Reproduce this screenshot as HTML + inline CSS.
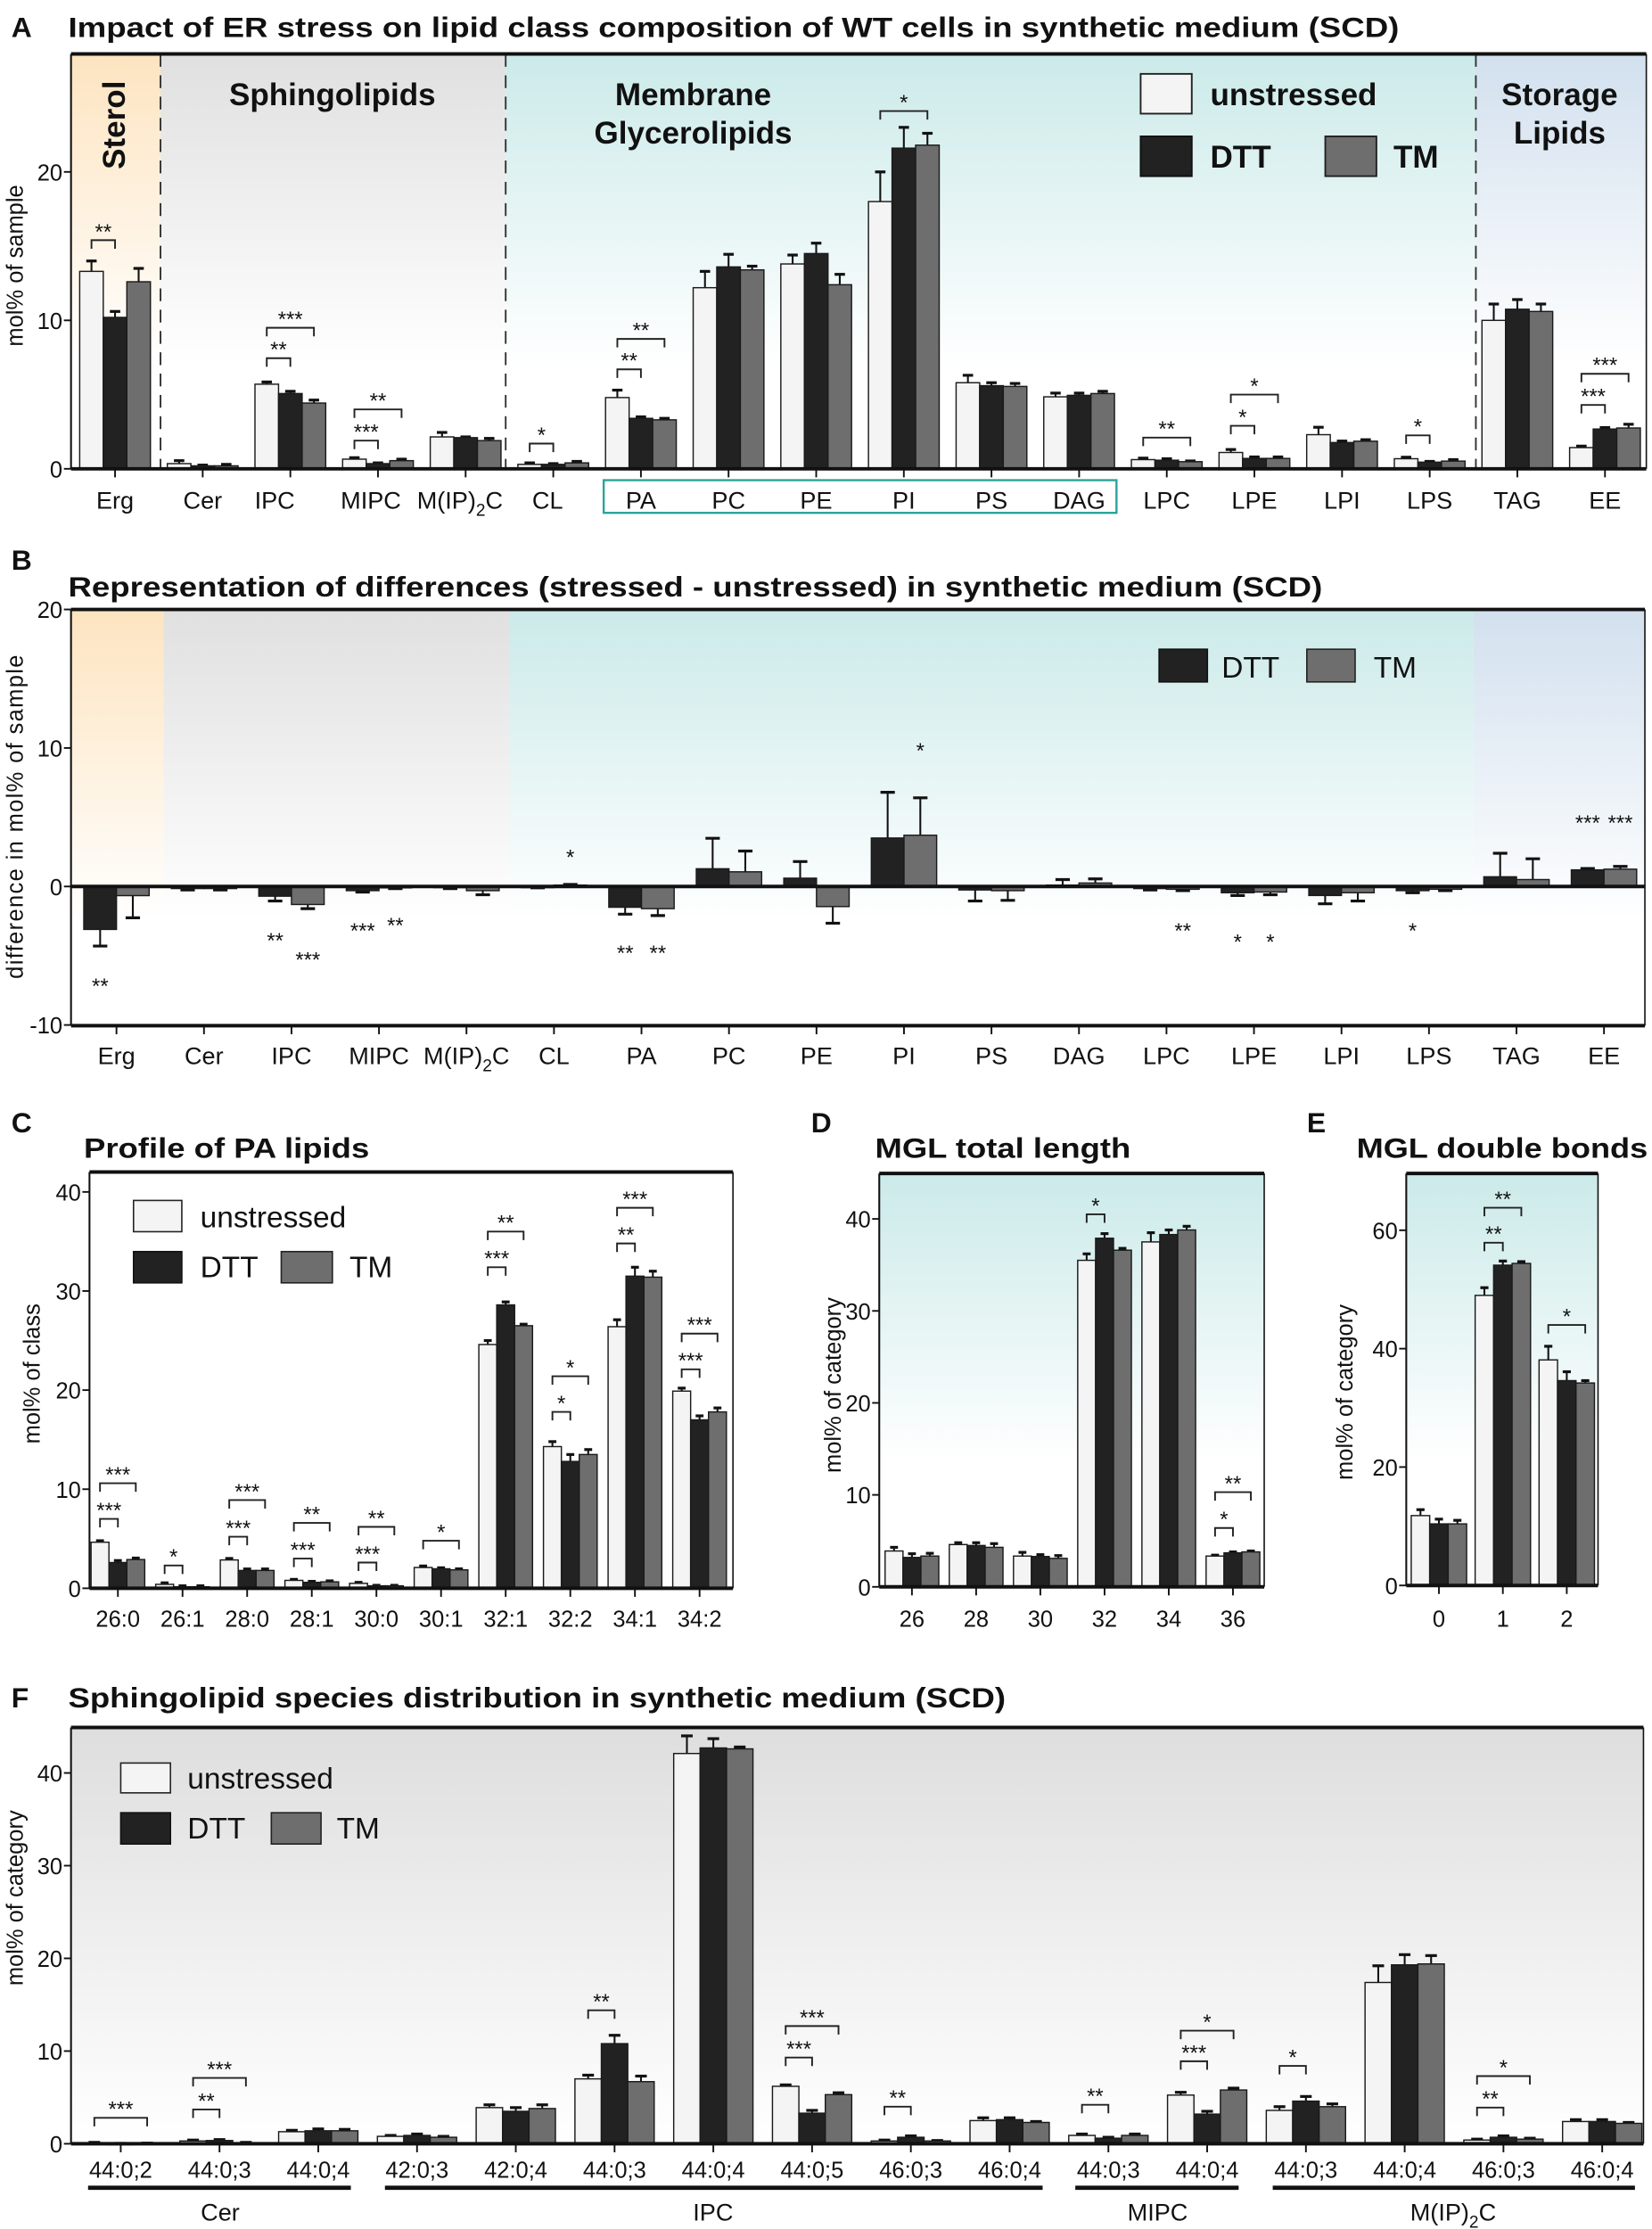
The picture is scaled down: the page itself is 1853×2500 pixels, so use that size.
<!DOCTYPE html>
<html><head><meta charset="utf-8"><title>ER stress lipid composition</title>
<style>
html,body{margin:0;padding:0;background:#fff;}
svg{display:block;font-family:"Liberation Sans",Arial,sans-serif;}
.t{font-weight:bold;font-size:20px;fill:#111;}
.lt{font-weight:bold;font-size:20px;fill:#111;}
.tick{font-size:16px;fill:#111;}
.cat{font-size:17px;fill:#111;}
.yl{font-size:16px;fill:#111;}
.reg{font-weight:bold;font-size:22px;fill:#111;}
.lg{font-size:21px;fill:#111;}
.lgb{font-weight:bold;font-size:22px;fill:#111;}
</style></head>
<body>
<svg id="fig" width="1853" height="2500" viewBox="0 0 1163 1569" preserveAspectRatio="none" xmlns="http://www.w3.org/2000/svg">
<defs>
<linearGradient id="gOr" x1="0" y1="0" x2="0" y2="1"><stop offset="0" stop-color="#fde4c0"/><stop offset="0.75" stop-color="#fff"/></linearGradient>
<linearGradient id="gGr" x1="0" y1="0" x2="0" y2="1"><stop offset="0" stop-color="#e0e0e0"/><stop offset="0.75" stop-color="#fff"/></linearGradient>
<linearGradient id="gTe" x1="0" y1="0" x2="0" y2="1"><stop offset="0" stop-color="#cbeae9"/><stop offset="0.75" stop-color="#fff"/></linearGradient>
<linearGradient id="gBl" x1="0" y1="0" x2="0" y2="1"><stop offset="0" stop-color="#d2e0ee"/><stop offset="0.75" stop-color="#fff"/></linearGradient>
<linearGradient id="gF" x1="0" y1="0" x2="0" y2="1"><stop offset="0" stop-color="#dedede"/><stop offset="1" stop-color="#fff"/></linearGradient>
<linearGradient id="gD" x1="0" y1="0" x2="0" y2="1"><stop offset="0" stop-color="#cbeae9"/><stop offset="0.7" stop-color="#fff"/></linearGradient>
</defs>

<!-- Panel A -->
<g>
<text x="8" y="26" class="t">A</text>
<text x="48" y="26" class="t" textLength="937" lengthAdjust="spacingAndGlyphs">Impact of ER stress on lipid class composition of WT cells in synthetic medium (SCD)</text>
<rect x="50" y="38" width="63" height="292" fill="url(#gOr)"/>
<rect x="113" y="38" width="243" height="292" fill="url(#gGr)"/>
<rect x="356" y="38" width="683" height="292" fill="url(#gTe)"/>
<rect x="1039" y="38" width="120" height="292" fill="url(#gBl)"/>
<line x1="113" y1="38" x2="113" y2="330" stroke="#333" stroke-dasharray="9,6" stroke-width="1.2"/>
<line x1="356" y1="38" x2="356" y2="330" stroke="#333" stroke-dasharray="9,6" stroke-width="1.2"/>
<line x1="1039" y1="38" x2="1039" y2="330" stroke="#333" stroke-dasharray="9,6" stroke-width="1.2"/>
<text transform="translate(88,88) rotate(-90)" text-anchor="middle" class="reg" font-size="24">Sterol</text>
<text x="234" y="74" text-anchor="middle" class="reg">Sphingolipids</text>
<text x="488" y="74" text-anchor="middle" class="reg">Membrane</text>
<text x="488" y="101" text-anchor="middle" class="reg">Glycerolipids</text>
<text x="1098" y="74" text-anchor="middle" class="reg">Storage</text>
<text x="1098" y="101" text-anchor="middle" class="reg">Lipids</text>
<rect x="803" y="52" width="36" height="28" fill="#f4f4f4" stroke="#222" stroke-width="1.2"/>
<text x="852" y="74" class="lgb">unstressed</text>
<rect x="803" y="96" width="36" height="28" fill="#222" stroke="#111" stroke-width="1.2"/>
<text x="852" y="118" class="lgb">DTT</text>
<rect x="933" y="96" width="36" height="28" fill="#6e6e6e" stroke="#222" stroke-width="1.2"/>
<text x="981" y="118" class="lgb">TM</text>
<rect x="425" y="338" width="361" height="23" fill="none" stroke="#2aa39a" stroke-width="1.5"/>
<text transform="translate(16,187) rotate(-90)" text-anchor="middle" class="yl">mol% of sample</text>
<g id="gA"></g>
</g>

<!-- Panel B -->
<g>
<text x="8" y="401" class="t">B</text>
<text x="48" y="420" class="t" textLength="883" lengthAdjust="spacingAndGlyphs">Representation of differences (stressed - unstressed) in synthetic medium (SCD)</text>
<rect x="50" y="429" width="65" height="293" fill="url(#gOr)"/>
<rect x="115" y="429" width="244" height="293" fill="url(#gGr)"/>
<rect x="359" y="429" width="678" height="293" fill="url(#gTe)"/>
<rect x="1037" y="429" width="121" height="293" fill="url(#gBl)"/>
<rect x="816" y="457" width="34" height="23" fill="#222" stroke="#111"/>
<text x="860" y="477" class="lg">DTT</text>
<rect x="920" y="457" width="34" height="23" fill="#6e6e6e" stroke="#222"/>
<text x="967" y="477" class="lg">TM</text>
<text transform="translate(16,575) rotate(-90)" text-anchor="middle" class="yl" textLength="228">difference in mol% of sample</text>
<g id="gB"></g>
</g>

<!-- Panel C -->
<g>
<text x="8" y="797" class="t">C</text>
<text x="59" y="815" class="t" textLength="201" lengthAdjust="spacingAndGlyphs">Profile of PA lipids</text>
<rect x="94" y="845" width="34" height="22" fill="#f4f4f4" stroke="#222"/>
<text x="141" y="864" class="lg">unstressed</text>
<rect x="94" y="881" width="34" height="22" fill="#222" stroke="#111"/>
<text x="141" y="899" class="lg">DTT</text>
<rect x="198" y="881" width="36" height="22" fill="#6e6e6e" stroke="#222"/>
<text x="246" y="899" class="lg">TM</text>
<text transform="translate(28,967) rotate(-90)" text-anchor="middle" class="yl">mol% of class</text>
<g id="gC"></g>
</g>

<!-- Panel D -->
<g>
<text x="571" y="797" class="t">D</text>
<text x="616" y="815" class="t" textLength="180" lengthAdjust="spacingAndGlyphs">MGL total length</text>
<rect x="619" y="826" width="271" height="291" fill="url(#gD)"/>
<text transform="translate(592,975) rotate(-90)" text-anchor="middle" class="yl">mol% of category</text>
<g id="gD2"></g>
</g>

<!-- Panel E -->
<g>
<text x="920" y="797" class="t">E</text>
<text x="955" y="815" class="t" textLength="205" lengthAdjust="spacingAndGlyphs">MGL double bonds</text>
<rect x="990" y="826" width="135" height="290" fill="url(#gD)"/>
<text transform="translate(952,980) rotate(-90)" text-anchor="middle" class="yl">mol% of category</text>
<g id="gE"></g>
</g>

<!-- Panel F -->
<g>
<text x="8" y="1202" class="t">F</text>
<text x="48" y="1202" class="t" textLength="660" lengthAdjust="spacingAndGlyphs">Sphingolipid species distribution in synthetic medium (SCD)</text>
<rect x="50" y="1216" width="1107" height="293" fill="url(#gF)"/>
<rect x="85" y="1241" width="35" height="21" fill="#f4f4f4" stroke="#222"/>
<text x="132" y="1259" class="lg">unstressed</text>
<rect x="85" y="1276" width="35" height="22" fill="#222" stroke="#111"/>
<text x="132" y="1294" class="lg">DTT</text>
<rect x="191" y="1276" width="35" height="22" fill="#6e6e6e" stroke="#222"/>
<text x="237" y="1294" class="lg">TM</text>
<text transform="translate(16,1336) rotate(-90)" text-anchor="middle" class="yl">mol% of category</text>
<line x1="62" y1="1540" x2="247" y2="1540" stroke="#111" stroke-width="3"/>
<line x1="271" y1="1540" x2="734" y2="1540" stroke="#111" stroke-width="3"/>
<line x1="757" y1="1540" x2="872" y2="1540" stroke="#111" stroke-width="3"/>
<line x1="896" y1="1540" x2="1151" y2="1540" stroke="#111" stroke-width="3"/>
<text x="155" y="1563" text-anchor="middle" class="cat">Cer</text>
<text x="502" y="1563" text-anchor="middle" class="cat">IPC</text>
<text x="815" y="1563" text-anchor="middle" class="cat">MIPC</text>
<text x="1023" y="1563" text-anchor="middle" class="cat">M(IP)<tspan font-size="12" dy="5">2</tspan><tspan dy="-5">C</tspan></text>
<g id="gF2"></g>
</g>
</svg>

<script>
// ---------- Panel A data ----------
const aCats = ['Erg','Cer','IPC','MIPC','M(IP)2C','CL','PA','PC','PE','PI','PS','DAG','LPC','LPE','LPI','LPS','TAG','EE'];
const aUn  = [13.3,0.35,5.7,0.65,2.15,0.3,4.8,12.2,13.8,18.0,5.8,4.85,0.62,1.1,2.3,0.68,10.0,1.43];
const aDtt = [10.2,0.2,5.07,0.35,2.1,0.3,3.4,13.6,14.5,21.6,5.6,4.95,0.58,0.7,1.77,0.45,10.75,2.68];
const aTm  = [12.6,0.2,4.43,0.55,1.9,0.4,3.3,13.4,12.4,21.8,5.55,5.07,0.48,0.7,1.86,0.52,10.6,2.75];
const aErrUn  = [0.7,0.2,0.15,0.1,0.3,0.1,0.5,1.1,0.6,2.0,0.5,0.25,0.1,0.2,0.5,0.1,1.1,0.1];
const aErrDtt = [0.4,0.05,0.15,0.05,0.05,0.05,0.1,0.85,0.7,1.4,0.2,0.15,0.1,0.1,0.1,0.05,0.65,0.1];
const aErrTm  = [0.9,0.1,0.2,0.1,0.15,0.1,0.1,0.25,0.7,0.8,0.2,0.15,0.05,0.1,0.1,0.1,0.5,0.25];
const aYTicks = [0,10,20];
const aSigCat  = [0,2,2,3,3,5,6,6,9,12,13,13,15,17,17];
const aSigFrom = [0,0,0,0,0,0,0,0,0,0,0,0,0,0,0];
const aSigTo   = [1,1,2,1,2,1,1,2,2,2,1,2,1,1,2];
const aSigY    = [15.4,7.45,9.5,1.9,4.0,1.7,6.7,8.75,24.1,2.1,2.9,5.0,2.25,4.3,6.4];
const aSigLbl  = ['**','**','***','***','**','*','**','**','*','**','*','*','*','***','***'];

// ---------- Panel B data ----------
const bDtt = [-3.1,-0.15,-0.7,-0.3,-0.05,-0.05,-1.5,1.28,0.6,3.5,-0.25,0.1,-0.15,-0.45,-0.65,-0.3,0.7,1.2];
const bTm  = [-0.66,-0.15,-1.3,-0.1,-0.3,0.1,-1.6,1.06,-1.45,3.7,-0.3,0.25,-0.2,-0.4,-0.45,-0.2,0.5,1.25];
const bErrDtt = [1.2,0.1,0.35,0.1,0.1,0.05,0.5,2.2,1.2,3.3,0.8,0.4,0.1,0.2,0.6,0.15,1.7,0.1];
const bErrTm  = [1.6,0.1,0.3,0.05,0.3,0.05,0.5,1.5,1.2,2.7,0.7,0.3,0.1,0.2,0.6,0.1,1.5,0.2];
const bYTicks = [-10,0,10,20];
const bStarCat  = [0,2,2,3,3,5,6,6,9,12,13,13,15,17,17];
const bStarSide = [0,0,1,0,1,1,0,1,1,1,0,1,0,0,1];
const bStarY    = [-7.0,-3.7,-5.1,-3.0,-2.6,2.3,-4.6,-4.6,10.0,-3.0,-3.8,-3.8,-3.0,4.8,4.8];
const bStarLbl  = ['**','**','***','***','**','*','**','**','*','**','*','*','*','***','***'];

// ---------- Panel C data ----------
const cCats = ['26:0','26:1','28:0','28:1','30:0','30:1','32:1','32:2','34:1','34:2'];
const cUn  = [4.65,0.4,2.86,0.8,0.5,2.1,24.6,14.3,26.4,19.9];
const cDtt = [2.6,0.15,1.8,0.6,0.25,1.97,28.6,12.8,31.5,17.0];
const cTm  = [2.9,0.15,1.8,0.65,0.25,1.86,26.5,13.5,31.4,17.8];
const cErrUn  = [0.15,0.15,0.15,0.1,0.1,0.15,0.4,0.5,0.7,0.3];
const cErrDtt = [0.2,0.1,0.15,0.1,0.05,0.1,0.3,0.7,0.9,0.4];
const cErrTm  = [0.15,0.1,0.15,0.1,0.05,0.1,0.15,0.5,0.6,0.4];
const cYTicks = [0,10,20,30,40];
const cSigCat  = [0,0,1,2,2,3,3,4,4,5,6,6,7,7,8,8,9,9];
const cSigTo   = [1,2,1,1,2,1,2,1,2,2,1,2,1,2,1,2,1,2];
const cSigY    = [7.0,10.6,2.3,5.2,8.9,3.0,6.6,2.6,6.2,4.8,32.4,36.0,17.8,21.4,34.8,38.4,22.1,25.7];
const cSigLbl  = ['***','***','*','***','***','***','**','***','**','*','***','**','*','*','**','***','***','***'];

// ---------- Panel D data ----------
const dCats = ['26','28','30','32','34','36'];
const dUn  = [3.9,4.6,3.35,35.5,37.5,3.35];
const dDtt = [3.2,4.5,3.3,37.9,38.3,3.7];
const dTm  = [3.35,4.3,3.1,36.6,38.8,3.8];
const dErrUn  = [0.4,0.2,0.4,0.7,1.0,0.1];
const dErrDtt = [0.4,0.3,0.2,0.5,0.5,0.1];
const dErrTm  = [0.3,0.4,0.3,0.2,0.4,0.1];
const dYTicks = [0,10,20,30,40];
const dSigCat = [3,5,5];
const dSigTo  = [1,1,2];
const dSigY   = [40.5,6.4,10.3];
const dSigLbl = ['*','*','**'];

// ---------- Panel E data ----------
const eCats = ['0','1','2'];
const eUn  = [11.8,49.0,38.1];
const eDtt = [10.4,54.1,34.6];
const eTm  = [10.4,54.4,34.2];
const eErrUn  = [1.0,1.3,2.3];
const eErrDtt = [0.8,0.7,1.5];
const eErrTm  = [0.6,0.3,0.4];
const eYTicks = [0,20,40,60];
const eSigCat = [1,1,2];
const eSigTo  = [1,2,2];
const eSigY   = [57.9,63.8,44.0];
const eSigLbl = ['**','**','*'];

// ---------- Panel F data ----------
const fCats = ['44:0;2','44:0;3','44:0;4','42:0;3','42:0;4','44:0;3','44:0;4','44:0;5','46:0;3','46:0;4','44:0;3','44:0;4','44:0;3','44:0;4','46:0;3','46:0;4'];
const fUn  = [0.1,0.3,1.3,0.8,3.9,7.0,42.1,6.2,0.3,2.5,0.9,5.25,3.6,17.4,0.4,2.4];
const fDtt = [0.02,0.35,1.4,0.9,3.5,10.8,42.7,3.3,0.7,2.6,0.6,3.2,4.6,19.3,0.7,2.4];
const fTm  = [0.05,0.1,1.4,0.7,3.8,6.7,42.6,5.3,0.3,2.3,0.9,5.8,4.0,19.4,0.5,2.2];
const fErrUn  = [0.05,0.1,0.15,0.1,0.3,0.4,1.9,0.15,0.1,0.3,0.15,0.3,0.4,1.8,0.1,0.2];
const fErrDtt = [0.02,0.1,0.2,0.15,0.4,0.9,1.0,0.3,0.15,0.2,0.1,0.3,0.5,1.1,0.15,0.2];
const fErrTm  = [0.02,0.05,0.15,0.1,0.4,0.6,0.2,0.2,0.05,0.1,0.15,0.2,0.3,0.9,0.1,0.1];
const fYTicks = [0,10,20,30,40];
const fSigCat = [0,1,1,5,7,7,8,10,11,11,12,14,14];
const fSigTo  = [2,1,2,1,1,2,1,1,1,2,1,1,2];
const fSigY   = [2.8,3.7,7.1,14.4,9.3,12.7,4.0,4.2,8.9,12.2,8.4,3.9,7.3];
const fSigLbl = ['***','**','***','**','***','***','**','**','***','*','*','**','*'];

// ---------- rendering ----------
const NS = 'http://www.w3.org/2000/svg';
const FILLS = ['#f4f4f4','#222222','#6e6e6e'];
const SER = ['unstressed','dtt','tm'];

function mk(tag, attrs, parent) {
  const n = document.createElementNS(NS, tag);
  for (const k in attrs) n.setAttribute(k, attrs[k]);
  parent.appendChild(n);
  return n;
}

function catLabel(g, txt, x, y, cls, prefix) {
  const t = mk('text', {x: x, y: y, 'text-anchor': 'middle', class: cls}, g);
  
  
  if (txt === 'M(IP)2C') {
    t.appendChild(document.createTextNode('M(IP)'));
    const s = mk('tspan', {'font-size': 12, dy: 5}, t);
    s.textContent = '2';
    const c = mk('tspan', {dy: -5}, t);
    c.textContent = 'C';
  } else {
    t.textContent = txt;
  }
}

function drawPanel(p) {
  const g = document.getElementById(p.id);
  const yf = v => p.y0 - v * p.k;
  const xc = i => p.x0 + p.dx * i;
  // bars
  for (let i = 0; i < p.cats.length; i++) {
    for (let s = 0; s < p.series.length; s++) {
      const v = p.series[s][i];
      const cx = xc(i) + p.off[s] * p.bw;
      const y1 = yf(v), yb = yf(0);
      const dir = v < 0 ? -1 : 1;
      const ye = yf(v + dir * p.errs[s][i]);
      const el = mk('line', {x1: cx, x2: cx, y1: y1, y2: ye, stroke: '#111', 'stroke-width': 1.3}, g);
      
      
      const cap = mk('line', {x1: cx - p.bw * 0.22, x2: cx + p.bw * 0.22, y1: ye, y2: ye, stroke: '#111', 'stroke-width': 2}, g);
      
      
      const r = mk('rect', {x: cx - p.bw / 2, y: Math.min(y1, yb), width: p.bw, height: Math.max(Math.abs(yb - y1), 0.8), fill: p.fills[s], stroke: '#1a1a1a', 'stroke-width': 0.9}, g);
      
      
    }
  }
  // frame / axes
  const top = mk('line', {x1: p.left, x2: p.right, y1: p.top, y2: p.top, stroke: '#111', 'stroke-width': 2.5}, g);
  
  
  const bot = mk('line', {x1: p.left, x2: p.right, y1: p.bottom, y2: p.bottom, stroke: '#111', 'stroke-width': 2.5}, g);
  
  
  const lft = mk('line', {x1: p.left, x2: p.left, y1: p.top, y2: p.bottom, stroke: '#111', 'stroke-width': 1.3}, g);
  
  
  const rgt = mk('line', {x1: p.right, x2: p.right, y1: p.top, y2: p.bottom, stroke: '#111', 'stroke-width': 1}, g);
  
  
  if (p.zeroLine) {
    const z = mk('line', {x1: p.left, x2: p.right, y1: yf(0), y2: yf(0), stroke: '#111', 'stroke-width': 2.5}, g);
    
    
  }
  // y ticks
  for (const tv of p.yticks) {
    const y = yf(tv);
    const tl = mk('line', {x1: p.left - 5, x2: p.left, y1: y, y2: y, stroke: '#111', 'stroke-width': 1.2}, g);
    
    
    const tt = mk('text', {x: p.left - 6, y: y + 6, 'text-anchor': 'end', class: 'tick'}, g);
    
    
    tt.textContent = tv;
  }
  // x ticks + labels
  for (let i = 0; i < p.cats.length; i++) {
    const x = xc(i);
    const tl = mk('line', {x1: x, x2: x, y1: p.bottom, y2: p.bottom + 6, stroke: '#111', 'stroke-width': 1.2}, g);
    
    
    catLabel(g, p.cats[i], x + (p.labelDx ? p.labelDx[i] : 0), p.labelY, p.labelCls, p.id);
  }
  // significance brackets
  if (p.sigCat) {
    for (let j = 0; j < p.sigCat.length; j++) {
      const x1 = xc(p.sigCat[j]) + p.off[p.sigFrom ? p.sigFrom[j] : 0] * p.bw;
      const x2 = xc(p.sigCat[j]) + p.off[p.sigTo[j]] * p.bw;
      const y = yf(p.sigY[j]);
      const br = mk('path', {d: 'M' + x1 + ',' + (y + 6) + 'V' + y + 'H' + x2 + 'V' + (y + 6), fill: 'none', stroke: '#222', 'stroke-width': 1.2}, g);
      
      
      const st = mk('text', {x: (x1 + x2) / 2, y: y - 1, 'text-anchor': 'middle', 'font-size': 15, fill: '#111'}, g);
      
      
      st.textContent = p.sigLbl[j];
    }
  }
  if (p.starCat) {
    for (let j = 0; j < p.starCat.length; j++) {
      const x = xc(p.starCat[j]) + p.off[p.starSide[j]] * p.bw;
      const st = mk('text', {x: x, y: yf(p.starY[j]) + 7, 'text-anchor': 'middle', 'font-size': 15, fill: '#111'}, g);
      
      
      st.textContent = p.starLbl[j];
    }
  }
}

const aLabelDx = [0,0,-11,-5,-4,-4,0,0,0,0,0,0,0,0,0,0,0,0];

drawPanel({id: 'gA', cats: aCats, series: [aUn, aDtt, aTm], errs: [aErrUn, aErrDtt, aErrTm],
  fills: FILLS, serNames: SER, off: [-1, 0, 1], bw: 16.6, x0: 81, dx: 61.7, y0: 330, k: 10.45,
  left: 50, right: 1159, top: 38, bottom: 330, yticks: aYTicks, labelY: 358, labelCls: 'cat', labelDx: aLabelDx,
  sigCat: aSigCat, sigFrom: aSigFrom, sigTo: aSigTo, sigY: aSigY, sigLbl: aSigLbl});

drawPanel({id: 'gB', cats: aCats, series: [bDtt, bTm], errs: [bErrDtt, bErrTm],
  fills: [FILLS[1], FILLS[2]], serNames: ['dtt', 'tm'], off: [-0.5, 0.5], bw: 23, x0: 82, dx: 61.6, y0: 624, k: 9.75,
  left: 50, right: 1158, top: 429, bottom: 722, yticks: bYTicks, labelY: 749, labelCls: 'cat', zeroLine: true,
  starCat: bStarCat, starSide: bStarSide, starY: bStarY, starLbl: bStarLbl});

drawPanel({id: 'gC', cats: cCats, series: [cUn, cDtt, cTm], errs: [cErrUn, cErrDtt, cErrTm],
  fills: FILLS, serNames: SER, off: [-1, 0, 1], bw: 12.6, x0: 83, dx: 45.5, y0: 1118, k: 6.975,
  left: 63, right: 516, top: 825, bottom: 1118, yticks: cYTicks, labelY: 1145, labelCls: 'tick',
  sigCat: cSigCat, sigTo: cSigTo, sigY: cSigY, sigLbl: cSigLbl});

drawPanel({id: 'gD2', cats: dCats, series: [dUn, dDtt, dTm], errs: [dErrUn, dErrDtt, dErrTm],
  fills: FILLS, serNames: SER, off: [-1, 0, 1], bw: 12.6, x0: 642, dx: 45.2, y0: 1117, k: 6.475,
  left: 619, right: 890, top: 826, bottom: 1117, yticks: dYTicks, labelY: 1145, labelCls: 'tick',
  sigCat: dSigCat, sigTo: dSigTo, sigY: dSigY, sigLbl: dSigLbl});

drawPanel({id: 'gE', cats: eCats, series: [eUn, eDtt, eTm], errs: [eErrUn, eErrDtt, eErrTm],
  fills: FILLS, serNames: SER, off: [-1, 0, 1], bw: 13, x0: 1013, dx: 45, y0: 1116, k: 4.167,
  left: 990, right: 1125, top: 826, bottom: 1116, yticks: eYTicks, labelY: 1145, labelCls: 'tick',
  sigCat: eSigCat, sigTo: eSigTo, sigY: eSigY, sigLbl: eSigLbl});

drawPanel({id: 'gF2', cats: fCats, series: [fUn, fDtt, fTm], errs: [fErrUn, fErrDtt, fErrTm],
  fills: FILLS, serNames: SER, off: [-1, 0, 1], bw: 18.6, x0: 85, dx: 69.53, y0: 1509, k: 6.525,
  left: 50, right: 1157, top: 1216, bottom: 1509, yticks: fYTicks, labelY: 1533, labelCls: 'tick',
  sigCat: fSigCat, sigTo: fSigTo, sigY: fSigY, sigLbl: fSigLbl});
</script>
</body></html>
